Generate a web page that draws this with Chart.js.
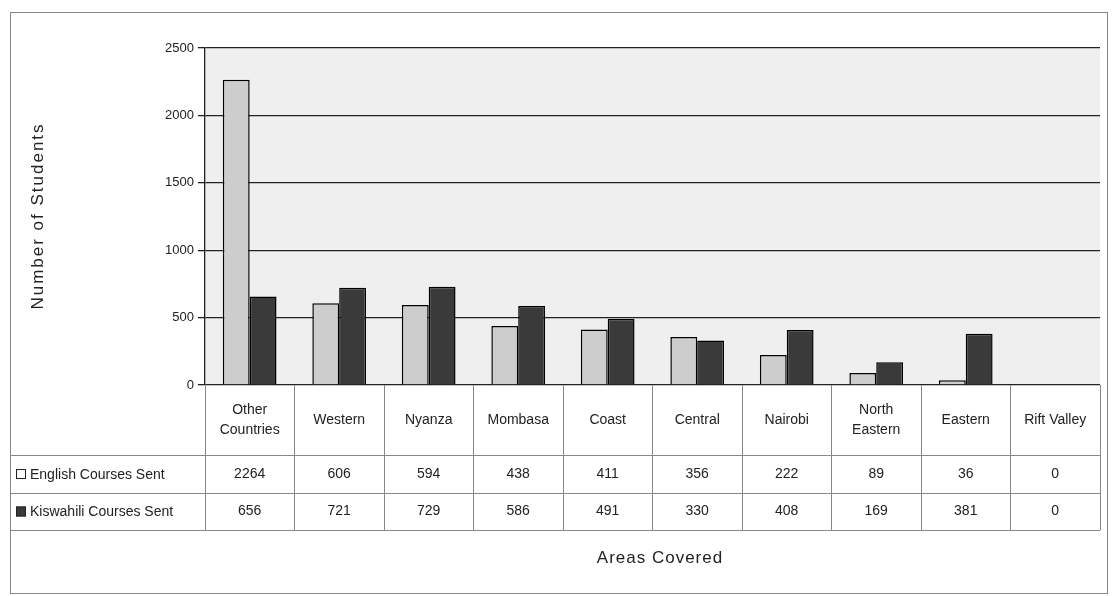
<!DOCTYPE html>
<html>
<head>
<meta charset="utf-8">
<script src="https://cdn.jsdelivr.net/npm/chart.js@4"></script>
<style>
  html, body { margin: 0; padding: 0; background: #fff; }
  #wrap { width: 1113px; height: 596px; }
</style>
</head>
<body>
<div id="wrap"><canvas id="areas" width="1113" height="596"></canvas></div>
<script>
// data
const categories = [['Other', 'Countries'], ['Western'], ['Nyanza'], ['Mombasa'], ['Coast'],
    ['Central'], ['Nairobi'], ['North', 'Eastern'], ['Eastern'], ['Rift Valley']];
const englishSent = [2264, 606, 594, 438, 411, 356, 222, 89, 36, 0];
const kiswahiliSent = [656, 721, 729, 586, 491, 330, 408, 169, 381, 0];
const seriesNames = ['English Courses Sent', 'Kiswahili Courses Sent'];
const yTicks = [0, 500, 1000, 1500, 2000, 2500];

const FONT = '"Liberation Sans", Arial, sans-serif';
const engColor = '#cdcdcd';
const kisColor = '#3a3a3a';

// draws plot background, titles, frame and the data table under the axis
const tablePlugin = {
    id: 'dataTable',
    beforeDraw(chart) {
        const { ctx, chartArea: a } = chart;
        ctx.save();
        ctx.fillStyle = '#efefef';
        ctx.fillRect(a.left, a.top, a.right - a.left, a.bottom - a.top);
        ctx.restore();
    },
    afterDraw(chart) {
        const { ctx, chartArea: a } = chart;
        const x = chart.scales.x;
        const n = categories.length;
        const step = (a.right - a.left) / n;
        const rowCat = a.bottom + 70, rowEng = rowCat + 38, rowKis = rowEng + 37;
        const leftX = 10;

        ctx.save();
        ctx.strokeStyle = '#888';
        ctx.lineWidth = 1;
        // outer frame
        ctx.strokeRect(10.5, 12.5, 1097, 581);

        // table lines
        ctx.beginPath();
        [rowCat, rowEng, rowKis].forEach(y => {
            ctx.moveTo(leftX, y + 0.5); ctx.lineTo(a.right, y + 0.5);
        });
        for (let i = 0; i <= n; i++) {
            const xx = Math.round(a.left + i * step) + 0.5;
            ctx.moveTo(xx, a.bottom); ctx.lineTo(xx, rowKis);
        }
        ctx.moveTo(leftX + 0.5, rowCat); ctx.lineTo(leftX + 0.5, rowKis);
        ctx.stroke();

        ctx.fillStyle = '#222';
        ctx.textAlign = 'center';
        ctx.textBaseline = 'middle';
        ctx.font = '14px ' + FONT;
        categories.forEach((lbl, i) => {
            const cx = x.getPixelForValue(i);
            const cy = (a.bottom + rowCat) / 2;
            lbl.forEach((line, j) => {
                ctx.fillText(line, cx, cy + (j - (lbl.length - 1) / 2) * 20);
            });
            ctx.fillText(String(englishSent[i]), cx, (rowCat + rowEng) / 2);
            ctx.fillText(String(kiswahiliSent[i]), cx, (rowEng + rowKis) / 2);
        });

        // legend keys in the row headers
        const rows = [[(rowCat + rowEng) / 2, engColor], [(rowEng + rowKis) / 2, kisColor]];
        rows.forEach(([cy, col], k) => {
            ctx.fillStyle = k === 0 ? '#fff' : col;
            ctx.fillRect(16, cy - 5, 10, 10);
            ctx.strokeStyle = '#222';
            ctx.strokeRect(16.5, cy - 4.5, 9, 9);
            ctx.fillStyle = '#222';
            ctx.textAlign = 'left';
            ctx.fillText(seriesNames[k], 30, cy + 1);
        });

        // axis titles
        ctx.font = '17px ' + FONT;
        ctx.letterSpacing = '1px';
        ctx.textAlign = 'center';
        ctx.fillText('Areas Covered', 660, 558);
        ctx.translate(38, 216);
        ctx.rotate(-Math.PI / 2);
        ctx.letterSpacing = '2px';
        ctx.fillText('Number of Students', 0, 0);
        ctx.restore();
    }
};

new Chart(document.getElementById('areas'), {
    type: 'bar',
    data: {
        labels: categories,
        datasets: [{
            label: seriesNames[0],
            data: englishSent,
            backgroundColor: engColor,
            borderColor: '#000',
            borderWidth: 1.5
        }, {
            label: seriesNames[1],
            data: kiswahiliSent,
            backgroundColor: kisColor,
            borderColor: '#000',
            borderWidth: 1.5
        }]
    },
    options: {
        responsive: false,
        animation: false,
        devicePixelRatio: 1,
        layout: { padding: { left: 161, right: 13, top: 48, bottom: 211 } },
        datasets: { bar: { categoryPercentage: 0.6, barPercentage: 1.0 } },
        plugins: { legend: { display: false }, tooltip: { enabled: false } },
        scales: {
            x: {
                display: false
            },
            y: {
                min: 0,
                max: 2500,
                afterBuildTicks(scale) { scale.ticks = yTicks.map(v => ({ value: v })); },
                ticks: {
                    color: '#222', font: { family: FONT, size: 13 }, padding: 4,
                    callback: v => String(v)
                },
                grid: { color: '#222', lineWidth: 1.3, tickLength: 7 },
                border: { color: '#222', width: 1.3 }
            }
        }
    },
    plugins: [tablePlugin]
});
</script>
</body>
</html>
